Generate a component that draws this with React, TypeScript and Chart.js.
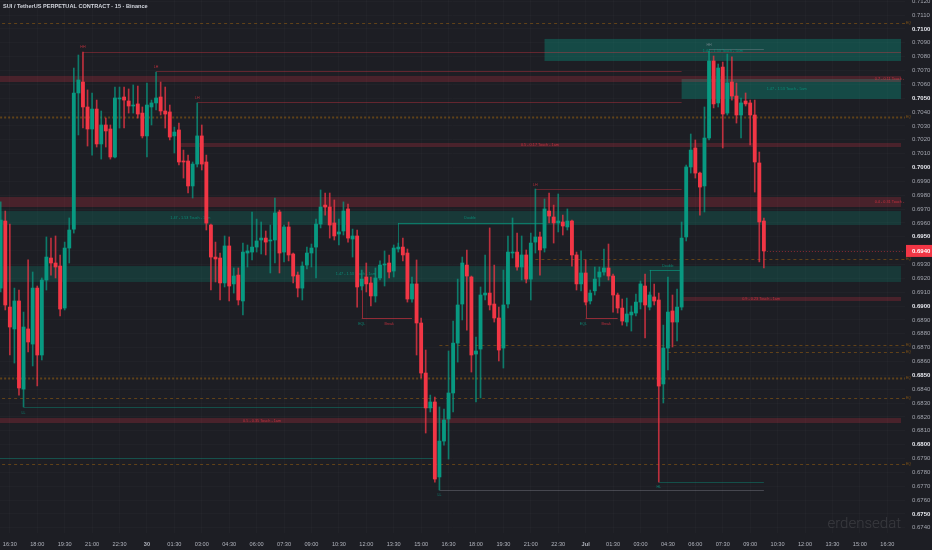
import React, { useEffect, useRef } from "react";
import { Chart, registerables } from "chart.js";

Chart.register(...registerables);

// ---------- candle data (15m, SUI/USDT) ----------
const opens = [
  0.69130,0.69614,0.68993,0.68835,0.69037,0.68401,0.68835,0.68726,0.69130,0.68647,0.69188,0.69347,
  0.69311,0.69289,0.68986,0.69419,0.69556,0.70538,0.70617,0.70437,0.70278,0.70422,0.70170,0.70307,
  0.70278,0.70076,0.70495,0.70509,0.70480,0.70444,0.70459,0.70393,0.70228,0.70437,0.70466,0.70509,
  0.70408,0.70401,0.70228,0.70271,0.70047,0.70047,0.69867,0.70025,0.70228,0.70040,0.69585,0.69354,
  0.69347,0.69167,0.69434,0.69160,0.69224,0.69037,0.69383,0.69390,0.69426,0.69477,0.69491,0.69470,
  0.69477,0.69679,0.69390,0.69571,0.69376,0.69224,0.69130,0.69296,0.69383,0.69426,0.69592,0.69729,
  0.69715,0.69600,0.69520,0.69542,0.69701,0.69484,0.69506,0.69145,0.69210,0.69167,0.69073,0.69203,
  0.69296,0.69311,0.69253,0.69412,0.69426,0.69383,0.69051,0.69160,0.68878,0.68517,0.68265,0.68308,
  0.67767,0.68026,0.68185,0.68373,0.68733,0.69015,0.69296,0.69210,0.68654,0.68690,0.69080,0.69094,
  0.69015,0.68914,0.68697,0.69015,0.69383,0.69390,0.69282,0.69369,0.69195,0.69462,0.69499,0.69419,
  0.69686,0.69643,0.69600,0.69607,0.69571,0.69614,0.69369,0.69160,0.69239,0.69037,0.69110,0.69210,
  0.69246,0.69275,0.69217,0.69080,0.68986,0.68885,0.68936,0.68950,0.69029,0.69145,0.68993,0.69066,
  0.69044,0.68438,0.68697,0.68965,0.68885,0.68993,0.69499,0.70004,0.70141,0.69960,0.69867,0.70213,
  0.70769,0.70466,0.70725,0.70393,0.70617,0.70516,0.70379,0.70480,0.70466,0.70379,0.70033,0.69614,
];
const highs = [
  0.69752,0.69686,0.69592,0.69130,0.69116,0.68957,0.69333,0.69246,0.69145,0.69203,0.69499,0.69491,
  0.69506,0.69369,0.69462,0.69636,0.70718,0.70812,0.70834,0.70560,0.70538,0.70487,0.70408,0.70357,
  0.70307,0.70581,0.70581,0.70581,0.70567,0.70596,0.70588,0.70437,0.70610,0.70487,0.70689,0.70617,
  0.70581,0.70451,0.70292,0.70321,0.70126,0.70090,0.70040,0.70466,0.70307,0.70090,0.69592,0.69462,
  0.69383,0.69506,0.69499,0.69275,0.69275,0.69455,0.69441,0.69679,0.69628,0.69607,0.69542,0.69585,
  0.69780,0.69693,0.69585,0.69607,0.69383,0.69246,0.69319,0.69426,0.69448,0.69628,0.69838,0.69816,
  0.69816,0.69766,0.69628,0.69752,0.69737,0.69556,0.69549,0.69260,0.69311,0.69210,0.69275,0.69326,
  0.69398,0.69369,0.69441,0.69455,0.69491,0.69412,0.69210,0.69333,0.68914,0.68683,0.68358,0.68344,
  0.68272,0.68257,0.68676,0.68892,0.69195,0.69354,0.69405,0.69217,0.68777,0.69138,0.69369,0.69564,
  0.69296,0.68993,0.69260,0.69506,0.69636,0.69527,0.69506,0.69405,0.69527,0.69845,0.69535,0.69773,
  0.69816,0.69729,0.69809,0.69657,0.69701,0.69621,0.69390,0.69398,0.69333,0.69116,0.69282,0.69282,
  0.69412,0.69448,0.69231,0.69094,0.69051,0.69058,0.69001,0.69087,0.69181,0.69231,0.69102,0.69159,
  0.69094,0.68863,0.69210,0.69080,0.69123,0.69607,0.70018,0.70242,0.70199,0.69968,0.70437,0.70841,
  0.70805,0.70747,0.70761,0.70819,0.70798,0.70610,0.70502,0.70538,0.70487,0.70487,0.70112,0.69636,
];
const lows = [
  0.69102,0.68972,0.68647,0.68589,0.68358,0.68272,0.68669,0.68568,0.68424,0.68611,0.69116,0.69224,
  0.69203,0.68929,0.68972,0.69311,0.69527,0.70235,0.70285,0.70155,0.70090,0.70148,0.70061,0.70148,
  0.70061,0.70069,0.70285,0.70285,0.70393,0.70393,0.70357,0.70213,0.70076,0.70307,0.70415,0.70379,
  0.70285,0.70199,0.70105,0.70018,0.69924,0.69816,0.69780,0.70004,0.69982,0.69549,0.69116,0.69174,
  0.69044,0.69138,0.69037,0.69094,0.69008,0.68936,0.69282,0.69333,0.69390,0.69376,0.69369,0.69239,
  0.69311,0.69239,0.69319,0.69326,0.69167,0.69066,0.69044,0.69268,0.69282,0.69203,0.69564,0.69657,
  0.69491,0.69477,0.69441,0.69513,0.69462,0.69354,0.68993,0.69116,0.69102,0.69001,0.69029,0.69188,
  0.69145,0.69203,0.69210,0.69390,0.69326,0.69029,0.69029,0.68647,0.68481,0.68084,0.68236,0.67730,
  0.67673,0.67997,0.67896,0.68236,0.68596,0.68900,0.68827,0.68524,0.68308,0.68337,0.69044,0.68972,
  0.68885,0.68604,0.68553,0.68986,0.69347,0.69260,0.69188,0.69167,0.69044,0.69383,0.69224,0.69390,
  0.69600,0.69455,0.69535,0.69513,0.69549,0.69289,0.69116,0.69109,0.69008,0.69015,0.69080,0.69145,
  0.69224,0.69188,0.68957,0.68950,0.68863,0.68856,0.68820,0.68929,0.68979,0.68770,0.68972,0.69008,
  0.67730,0.68301,0.68539,0.68705,0.68748,0.68972,0.69470,0.69960,0.69924,0.69657,0.69679,0.70199,
  0.70430,0.70437,0.70141,0.70379,0.70487,0.70321,0.70213,0.70444,0.70163,0.69823,0.69319,0.69275,
];
const closes = [
  0.69621,0.69008,0.68849,0.69037,0.68409,0.68849,0.68741,0.69130,0.68647,0.69188,0.69354,0.69311,
  0.69282,0.68979,0.69419,0.69549,0.70538,0.70632,0.70437,0.70278,0.70422,0.70170,0.70307,0.70264,
  0.70076,0.70502,0.70502,0.70487,0.70444,0.70451,0.70386,0.70228,0.70451,0.70466,0.70502,0.70408,
  0.70386,0.70220,0.70256,0.70040,0.70040,0.69867,0.70025,0.70228,0.70025,0.69599,0.69354,0.69340,
  0.69167,0.69434,0.69145,0.69217,0.69044,0.69390,0.69398,0.69426,0.69470,0.69491,0.69462,0.69477,
  0.69672,0.69383,0.69571,0.69369,0.69217,0.69130,0.69289,0.69383,0.69419,0.69592,0.69715,0.69715,
  0.69585,0.69506,0.69535,0.69686,0.69491,0.69506,0.69138,0.69195,0.69160,0.69073,0.69203,0.69296,
  0.69304,0.69246,0.69419,0.69426,0.69369,0.69051,0.69160,0.68878,0.68517,0.68265,0.68308,0.67752,
  0.68026,0.68178,0.68373,0.68733,0.69008,0.69311,0.69217,0.68647,0.68676,0.69080,0.69094,0.69008,
  0.68914,0.68683,0.69008,0.69390,0.69390,0.69282,0.69369,0.69195,0.69455,0.69499,0.69405,0.69701,
  0.69650,0.69600,0.69614,0.69578,0.69614,0.69369,0.69160,0.69239,0.69029,0.69094,0.69195,0.69246,
  0.69275,0.69217,0.69080,0.68986,0.68892,0.68943,0.68957,0.69029,0.69160,0.69008,0.69080,0.69037,
  0.68423,0.68697,0.68957,0.68885,0.68993,0.69491,0.70004,0.70126,0.69960,0.69859,0.70213,0.70769,
  0.70459,0.70718,0.70386,0.70610,0.70516,0.70379,0.70466,0.70459,0.70379,0.70040,0.69607,0.69398,
];

// ---------- axis labels ----------
const timeLabels = [
  "16:30","18:00","19:30","21:00","22:30","30","01:30","03:00","04:30","06:00","07:30",
  "09:00","10:30","12:00","13:30","15:00","16:30","18:00","19:30","21:00","22:30","Jul",
  "01:30","03:00","04:30","06:00","07:30","09:00","10:30","12:00","13:30","15:00","16:30",
];
const timeLabelFirstIndex = 2;
const timeLabelStep = 6;
const boldTimeLabels = ["30", "Jul"];

const priceTicks = [
  0.6740,0.6750,0.6760,0.6770,0.6780,0.6790,0.6800,0.6810,0.6820,0.6830,0.6840,0.6850,0.6860,
  0.6870,0.6880,0.6890,0.6900,0.6910,0.6920,0.6930,0.6940,0.6950,0.6960,0.6970,0.6980,0.6990,
  0.7000,0.7010,0.7020,0.7030,0.7040,0.7050,0.7060,0.7070,0.7080,0.7090,0.7100,0.7110,0.7120,
];

// visible ranges
const indexMin = -0.153;
const indexMax = 197.88;
const priceMin = 0.673625;
const priceMax = 0.71209;

// ---------- annotations (index, price) ----------
const tealZones = [
  { from: 119, to: 197, top: 0.70928, bottom: 0.70769, kind: "strong" },
  { from: 149, to: 197, top: 0.70639, bottom: 0.70495, kind: "strong" },
  { from: -1, to: 197, top: 0.69686, bottom: 0.69585, kind: "weak" },
  { from: -1, to: 197, top: 0.69289, bottom: 0.69174, kind: "weak" },
];
const redZones = [
  { from: -1, to: 197, top: 0.70661, bottom: 0.70617 },
  { from: 39, to: 197, top: 0.70177, bottom: 0.70148 },
  { from: -1, to: 197, top: 0.69787, bottom: 0.69715 },
  { from: 149, to: 197, top: 0.69066, bottom: 0.69037 },
  { from: -1, to: 197, top: 0.68192, bottom: 0.68156 },
];
const zoneLabels = [
  { text: "1.47 - 1.53 Touch - 5am", at: 158, price: 0.70841, kind: "teal" },
  { text: "1.47 - 1.53 Touch - 5am", at: 172, price: 0.70567, kind: "teal" },
  { text: "0.7 - 0.11 Touch - 1am", at: 195.4, price: 0.70639, kind: "red" },
  { text: "0.5 - 0.17 Touch - 1am", at: 118, price: 0.70163, kind: "red" },
  { text: "0.4 - 0.31 Touch - 1am", at: 195.4, price: 0.69751, kind: "red" },
  { text: "1.47 - 1.53 Touch - 1am", at: 41.5, price: 0.69636, kind: "teal" },
  { text: "1.47 - 1.53 Touch - 1am", at: 77.7, price: 0.69231, kind: "teal" },
  { text: "0.9 - 0.23 Touch - 1am", at: 166.4, price: 0.69051, kind: "red" },
  { text: "0.5 - 0.35 Touch - 1am", at: 57.2, price: 0.68174, kind: "red" },
];
const levelLines = [
  { price: 0.70834, from: 18, to: 197, kind: "red" },
  { price: 0.70697, from: 34, to: 149, kind: "red" },
  { price: 0.70473, from: 43, to: 149, kind: "red" },
  { price: 0.69845, from: 117, to: 149, kind: "red" },
  { price: 0.70855, from: 155, to: 167, kind: "gray" },
  { price: 0.68272, from: 5, to: 95, kind: "teal" },
  { price: 0.67904, from: -1, to: 95, kind: "teal" },
  { price: 0.67673, from: 96, to: 167, kind: "gray" },
  { price: 0.67731, from: 144, to: 167, kind: "teal" },
  { price: 0.69600, from: 87, to: 119, kind: "tealBright" },
  { price: 0.69261, from: 142, to: 149, kind: "tealBright" },
  { price: 0.68914, from: 79, to: 90, kind: "redBright" },
  { price: 0.68914, from: 128, to: 135, kind: "redBright" },
];
const verticalLines = [
  { at: 87, top: 0.69600, bottom: 0.69427, kind: "tealBright" },
  { at: 142, top: 0.69261, bottom: 0.69066, kind: "tealBright" },
  { at: 79, top: 0.69152, bottom: 0.68914, kind: "redBright" },
  { at: 128, top: 0.69080, bottom: 0.68914, kind: "redBright" },
];
const dashedLevels = [
  { price: 0.71043, from: -1, kind: "dash" },
  { price: 0.70365, from: -1, kind: "dot" },
  { price: 0.69340, from: 117, kind: "dash" },
  { price: 0.68719, from: 96, kind: "dash" },
  { price: 0.68669, from: 146, kind: "dash" },
  { price: 0.68481, from: -1, kind: "dot" },
  { price: 0.68337, from: -1, kind: "dash" },
  { price: 0.67861, from: -1, kind: "dash" },
];
const tinyLabels = [
  { text: "HH", at: 18, price: 0.70870, kind: "red" },
  { text: "LH", at: 34, price: 0.70725, kind: "red" },
  { text: "LH", at: 43, price: 0.70502, kind: "red" },
  { text: "LH", at: 117, price: 0.69874, kind: "red" },
  { text: "HH", at: 155, price: 0.70884, kind: "gray" },
  { text: "LL", at: 5, price: 0.68228, kind: "teal" },
  { text: "LL", at: 96, price: 0.67636, kind: "teal" },
  { text: "HL", at: 144, price: 0.67694, kind: "teal" },
  { text: "Double", at: 102.7, price: 0.69636, kind: "teal" },
  { text: "Double", at: 146, price: 0.69289, kind: "teal" },
  { text: "EQL", at: 79, price: 0.68871, kind: "teal" },
  { text: "Break", at: 85, price: 0.68871, kind: "red" },
  { text: "EQL", at: 127.5, price: 0.68871, kind: "teal" },
  { text: "Break", at: 132.5, price: 0.68871, kind: "red" },
];

const titleText = "SUI / TetherUS PERPETUAL CONTRACT · 15 · Binance";
const watermarkText = "erdensedat";

// ---------- styles ----------
const BG = "#1d1e24";
const UP = "#089981";
const DOWN = "#f23645";
const FONT = "'Liberation Sans', Arial, sans-serif";
const lineColors: Record<string, string> = {
  red: "rgba(242,54,69,0.33)",
  redBright: "rgba(242,54,69,0.55)",
  teal: "rgba(8,153,129,0.40)",
  tealBright: "rgba(8,153,129,0.65)",
  gray: "rgba(150,150,160,0.35)",
};
const labelColors: Record<string, string> = {
  red: "rgba(242,54,69,0.75)",
  teal: "rgba(8,153,129,0.85)",
  gray: "rgba(170,170,180,0.6)",
};

function isRoundPrice(v: number) {
  return Math.round(v * 10000) % 50 === 0;
}

export default function App() {
  const ref = useRef<HTMLCanvasElement | null>(null);

  useEffect(() => {
    document.body.style.margin = "0";
    document.body.style.background = BG;
    const canvas = ref.current;
    if (!canvas) return;

    const bodyData = opens.map((o, i) => ({ x: i, y: [o, closes[i]] }));
    const wickData = opens.map((_, i) => ({ x: i, y: [lows[i], highs[i]] }));
    const bodyColors = opens.map((o, i) => (closes[i] >= o ? UP : DOWN));
    const wickColors = opens.map((o, i) =>
      closes[i] >= o ? "rgba(8,153,129,0.75)" : "rgba(242,54,69,0.75)"
    );

    const overlay = {
      id: "overlay",
      beforeDraw(chart: any) {
        const c = chart.ctx;
        c.save();
        c.fillStyle = BG;
        c.fillRect(0, 0, chart.width, chart.height);
        c.restore();
      },
      beforeDatasetsDraw(chart: any) {
        const c = chart.ctx as CanvasRenderingContext2D;
        const xs = chart.scales.x;
        const ys = chart.scales.y;
        const X = (k: number) => xs.getPixelForValue(k);
        const Y = (p: number) => ys.getPixelForValue(p);
        const a = chart.chartArea;
        c.save();
        c.beginPath();
        c.rect(a.left, a.top, a.right - a.left, a.bottom - a.top);
        c.clip();

        tealZones.forEach((z) => {
          c.fillStyle = z.kind === "strong" ? "rgba(8,153,129,0.36)" : "rgba(8,153,129,0.22)";
          c.fillRect(X(z.from), Y(z.top), X(z.to) - X(z.from), Y(z.bottom) - Y(z.top));
        });
        redZones.forEach((z) => {
          c.fillStyle = "rgba(242,54,69,0.21)";
          c.fillRect(X(z.from), Y(z.top), X(z.to) - X(z.from), Y(z.bottom) - Y(z.top));
        });

        dashedLevels.forEach((d) => {
          c.beginPath();
          if (d.kind === "dot") {
            c.setLineDash([2, 2]);
            c.lineWidth = 2;
            c.strokeStyle = "rgba(255,152,0,0.30)";
          } else {
            c.setLineDash([3, 3]);
            c.lineWidth = 1;
            c.strokeStyle = "rgba(255,152,0,0.30)";
          }
          const y = Math.round(Y(d.price)) + 0.5;
          c.moveTo(X(d.from), y);
          c.lineTo(a.right, y);
          c.stroke();
        });
        c.setLineDash([]);

        c.lineWidth = 1;
        levelLines.forEach((l) => {
          const y = Math.round(Y(l.price)) + 0.5;
          c.strokeStyle = lineColors[l.kind];
          c.beginPath();
          c.moveTo(X(l.from), y);
          c.lineTo(X(l.to), y);
          c.stroke();
        });
        verticalLines.forEach((l) => {
          const x = Math.round(X(l.at)) + 0.5;
          c.strokeStyle = lineColors[l.kind];
          c.beginPath();
          c.moveTo(x, Y(l.top));
          c.lineTo(x, Y(l.bottom));
          c.stroke();
        });

        c.textBaseline = "middle";
        c.textAlign = "center";
        c.font = `3.8px ${FONT}`;
        zoneLabels.forEach((l) => {
          c.fillStyle = labelColors[l.kind];
          c.fillText(l.text, X(l.at), Y(l.price));
        });
        c.font = `3.6px ${FONT}`;
        tinyLabels.forEach((l) => {
          c.fillStyle = labelColors[l.kind];
          c.fillText(l.text, X(l.at), Y(l.price));
        });

        // last price dotted line
        const last = closes[closes.length - 1];
        const ly = Math.round(Y(last)) + 0.5;
        c.setLineDash([1, 2]);
        c.strokeStyle = "rgba(242,54,69,0.5)";
        c.beginPath();
        c.moveTo(X(closes.length - 1), ly);
        c.lineTo(a.right, ly);
        c.stroke();
        c.setLineDash([]);
        c.restore();
      },
      afterDraw(chart: any) {
        const c = chart.ctx as CanvasRenderingContext2D;
        const ys = chart.scales.y;
        const a = chart.chartArea;
        c.save();
        // last price tag
        const last = closes[closes.length - 1];
        const ly = ys.getPixelForValue(last);
        c.fillStyle = DOWN;
        c.fillRect(a.right + 1, ly - 6, chart.width - a.right - 1, 12);
        c.fillStyle = "#ffffff";
        c.font = `bold 6px ${FONT}`;
        c.textBaseline = "middle";
        c.textAlign = "left";
        c.fillText(last.toFixed(4), a.right + 7, ly);

        // small markers for dashed levels on the axis edge
        c.font = `3.5px ${FONT}`;
        c.fillStyle = "rgba(255,152,0,0.45)";
        dashedLevels.forEach((d) => {
          c.fillText("EQ", a.right + 1, ys.getPixelForValue(d.price));
        });

        // title
        c.font = `bold 5.6px ${FONT}`;
        c.fillStyle = "#d1d4dc";
        c.textBaseline = "middle";
        c.fillText(titleText, 3, 6);

        // watermark
        c.font = `300 15px Roboto, ${FONT}`;
        c.fillStyle = "rgba(255,255,255,0.12)";
        c.textAlign = "right";
        c.textBaseline = "alphabetic";
        c.fillText(watermarkText, a.right - 4, 528);
        c.restore();
      },
    };

    const chart = new Chart(canvas, {
      type: "bar",
      data: {
        datasets: [
          {
            label: "wicks",
            data: wickData as any,
            backgroundColor: wickColors,
            barThickness: 1,
            grouped: false,
            order: 2,
          } as any,
          {
            label: "bodies",
            data: bodyData as any,
            backgroundColor: bodyColors,
            barThickness: 3.2,
            minBarLength: 1,
            grouped: false,
            order: 1,
          } as any,
        ],
      },
      options: {
        animation: false,
        responsive: false,
        maintainAspectRatio: false,
        events: [],
        layout: { padding: 0 },
        plugins: { legend: { display: false }, tooltip: { enabled: false } },
        scales: {
          x: {
            type: "linear",
            min: indexMin,
            max: indexMax,
            offset: false,
            position: "bottom",
            grid: { color: "rgba(255,255,255,0.02)", drawTicks: false, offset: false },
            border: { display: false },
            ticks: {
              autoSkip: false,
              maxRotation: 0,
              padding: 8,
              color: "#b2b5be",
              font: (ctx: any) => ({
                family: FONT,
                size: 5.6,
                weight: boldTimeLabels.includes(timeLabels[ctx.index]) ? "bold" : "normal",
              }),
              callback: (_v: any, i: number) => timeLabels[i] ?? "",
            },
            afterBuildTicks: (s: any) => {
              s.ticks = timeLabels.map((_, n) => ({ value: timeLabelFirstIndex + n * timeLabelStep }));
            },
            afterFit: (s: any) => {
              s.height = 17;
              s.paddingLeft = 0;
              s.paddingRight = 0;
            },
          } as any,
          y: {
            type: "linear",
            position: "right",
            min: priceMin,
            max: priceMax,
            grid: { color: "rgba(255,255,255,0.02)", drawTicks: false },
            border: { display: false },
            ticks: {
              padding: 7,
              color: (ctx: any) => (isRoundPrice(ctx.tick.value) ? "#e6e8ee" : "#a3a6af"),
              font: (ctx: any) => ({
                family: FONT,
                size: 6,
                weight: ctx.tick && isRoundPrice(ctx.tick.value) ? "bold" : "normal",
              }),
              callback: (v: any) => Number(v).toFixed(4),
            },
            afterBuildTicks: (s: any) => {
              s.ticks = priceTicks.map((v) => ({ value: v }));
            },
            afterFit: (s: any) => {
              s.width = 27;
              s.paddingTop = 0;
              s.paddingBottom = 0;
            },
          } as any,
        },
      },
      plugins: [overlay as any],
    });

    return () => chart.destroy();
  }, []);

  return (
    <div style={{ position: "absolute", left: 0, top: 0, width: 932, height: 550 }}>
      <canvas ref={ref} width={932} height={550} style={{ width: 932, height: 550, display: "block" }} />
    </div>
  );
}
